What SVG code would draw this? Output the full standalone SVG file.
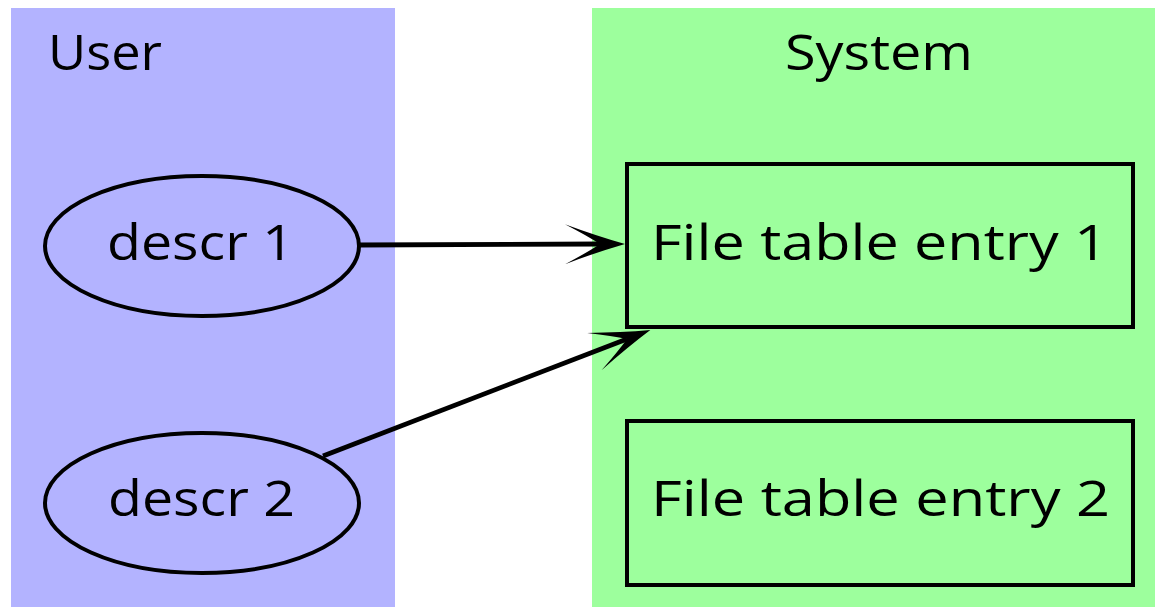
<svg xmlns="http://www.w3.org/2000/svg" width="1155" height="607" viewBox="0 0 1155 607">
  <style>
    .lbl { font-family: "Open Sans", "DejaVu Sans", sans-serif; font-size: 50px; fill: #000; }
    .shape { stroke: #000; stroke-width: 4; }
    .edge { stroke: #000; stroke-width: 4.8; fill: none; }
  </style>
  <defs>
    <marker id="barb" markerUnits="userSpaceOnUse" viewBox="-62 -25 66 50" markerWidth="66" markerHeight="50" refX="-25" refY="0" orient="auto" overflow="visible">
      <path d="M0,0 Q-28,-8 -60,-20 Q-37,-8 -25,0 Q-37,8 -60,20 Q-28,8 0,0 Z" fill="#000"/>
    </marker>
  </defs>

  <!-- swimlanes -->
  <g id="lane-user">
    <rect x="11" y="8" width="384" height="599" fill="#b3b3ff"/>
    <text class="lbl" x="48" y="70" textLength="114" lengthAdjust="spacingAndGlyphs">User</text>
  </g>
  <g id="lane-system">
    <rect x="592" y="8" width="563" height="599" fill="#9dff9d"/>
    <text class="lbl" x="785" y="70" textLength="188" lengthAdjust="spacingAndGlyphs">System</text>
  </g>

  <!-- descriptors -->
  <g id="descr1">
    <ellipse class="shape" cx="202" cy="246" rx="157" ry="70" fill="#b3b3ff"/>
    <text class="lbl" x="107" y="260" textLength="187" lengthAdjust="spacingAndGlyphs">descr 1</text>
  </g>
  <g id="descr2">
    <ellipse class="shape" cx="202" cy="503" rx="157" ry="70" fill="#b3b3ff"/>
    <text class="lbl" x="108" y="516" textLength="187" lengthAdjust="spacingAndGlyphs">descr 2</text>
  </g>

  <!-- file table entries -->
  <g id="entry1">
    <rect class="shape" x="627" y="164" width="506" height="163" fill="#9dff9d"/>
    <text class="lbl" x="651" y="260" textLength="457" lengthAdjust="spacingAndGlyphs">File table entry 1</text>
  </g>
  <g id="entry2">
    <rect class="shape" x="627" y="421" width="506" height="164" fill="#9dff9d"/>
    <text class="lbl" x="651" y="516" textLength="459" lengthAdjust="spacingAndGlyphs">File table entry 2</text>
  </g>

  <!-- connectors -->
  <g id="edges">
    <line class="edge" x1="359" y1="245" x2="600" y2="244" marker-end="url(#barb)"/>
    <line class="edge" x1="323" y1="456" x2="627" y2="339" marker-end="url(#barb)"/>
  </g>
</svg>
